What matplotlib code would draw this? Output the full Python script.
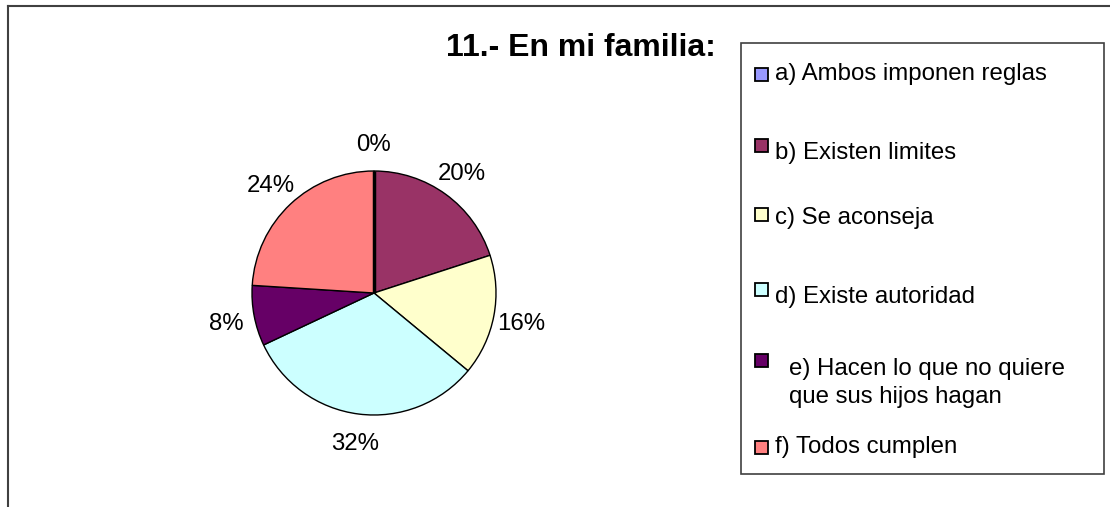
import matplotlib
matplotlib.use('Agg')
import matplotlib.pyplot as plt
import matplotlib.patches as mpatches
from matplotlib.lines import Line2D

plt.rcParams['font.family'] = ['Liberation Sans', 'DejaVu Sans']

title = '11.- En mi familia:'
categories = [
    'a) Ambos imponen reglas',
    'b) Existen limites',
    'c) Se aconseja',
    'd) Existe autoridad',
    'e) Hacen lo que no quiere\nque sus hijos hagan',
    'f) Todos cumplen',
]
values = [0, 20, 16, 32, 8, 24]
colors = ['#9999FF', '#993366', '#FFFFCC', '#CCFFFF', '#660066', '#FF8080']

W, H = 1110, 507
fig = plt.figure(figsize=(W / 100, H / 100), dpi=100)

# outer chart frame (cut off at right and bottom)
fig.add_artist(Line2D([7.5 / W, 7.5 / W], [0, 1 - 5.5 / H], color='#404040', lw=1.5))
fig.add_artist(Line2D([7.5 / W, 1], [1 - 5.5 / H, 1 - 5.5 / H], color='#404040', lw=1.5))

# pie
cx, cy, r = 374, 293, 122
ax = fig.add_axes([(cx - r) / W, (H - cy - r) / H, 2 * r / W, 2 * r / H])
wedges, texts = ax.pie(values, colors=colors, startangle=90, counterclock=False,
                       labels=[f'{v}%' for v in values], labeldistance=1.23,
                       wedgeprops=dict(edgecolor='black', linewidth=1.0),
                       textprops=dict(fontsize=17.3))
for t in texts:
    t.set_horizontalalignment('center')
    t.set_verticalalignment('center_baseline')
# zero slice shows as a thick line at the top
ax.plot([0, 0], [0, 1], color='black', lw=2.5, solid_capstyle='butt')
ax.set_xlim(-1, 1)
ax.set_ylim(-1, 1)
ax.set_aspect('equal')
ax.axis('off')

fig.text(581 / W, 1 - 48 / H, title, ha='center', va='center',
         fontsize=23, fontweight='bold')

# legend box
lx0, ly0, lx1, ly1 = 741, 43, 1104, 474
fig.add_artist(mpatches.Rectangle((lx0 / W, 1 - ly1 / H), (lx1 - lx0) / W, (ly1 - ly0) / H,
                                  facecolor='white', edgecolor='#404040', lw=1.2))
box_y = [75, 146, 215, 290, 361, 448]
text_y = [74, 153, 218, 297, 383, 447]
text_x = [775, 775, 775, 775, 789, 775]
for lab, col, by, ty, tx in zip(categories, colors, box_y, text_y, text_x):
    fig.add_artist(mpatches.Rectangle((755 / W, 1 - (by + 6) / H), 13 / W, 13 / H,
                                      facecolor=col, edgecolor='black', lw=1.3))
    fig.text(tx / W, 1 - ty / H, lab, ha='left', va='center', fontsize=17.3,
             linespacing=1.3)

fig.savefig('out.png', dpi=100)
